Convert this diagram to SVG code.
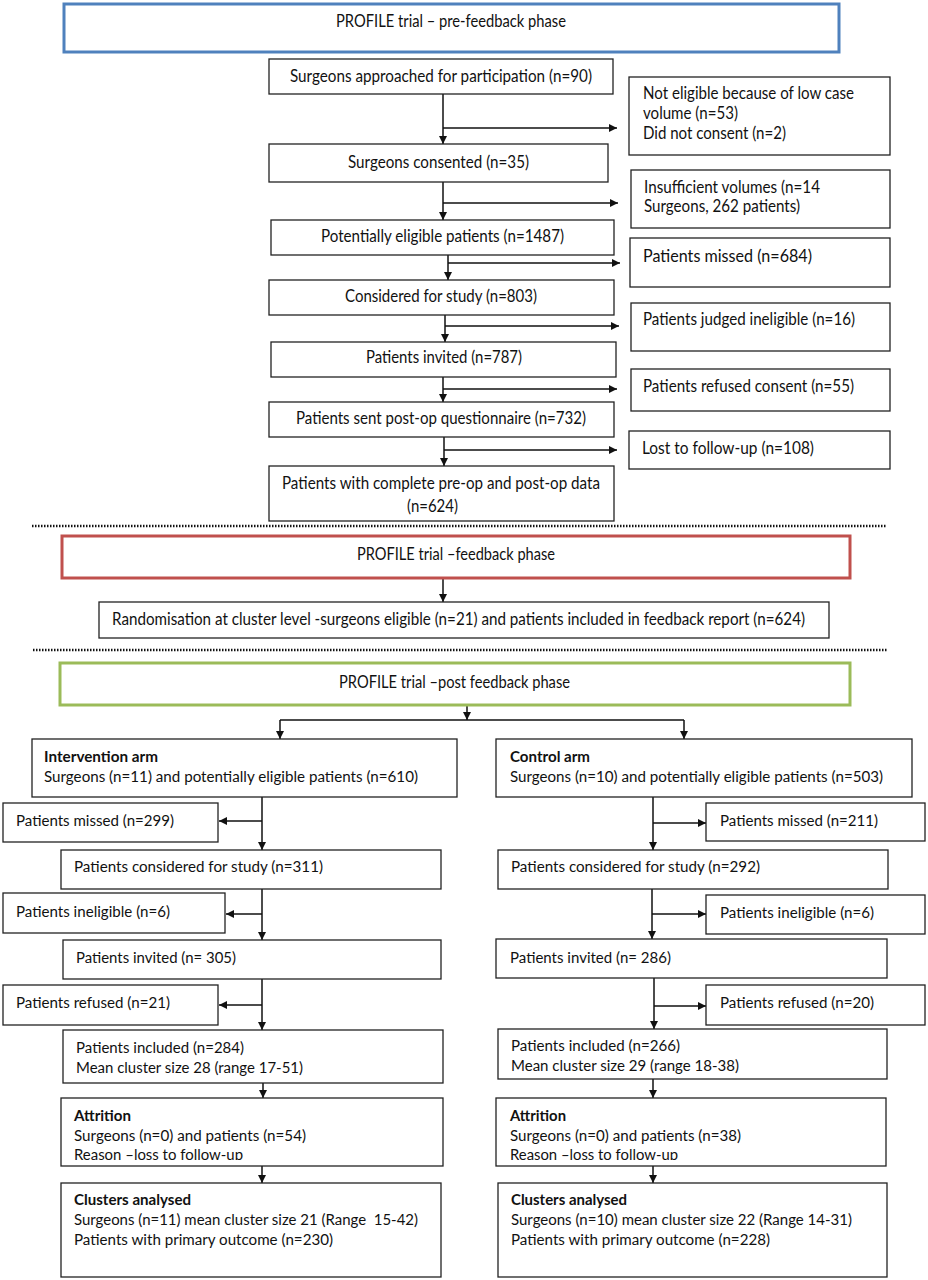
<svg xmlns="http://www.w3.org/2000/svg" width="928" height="1280" viewBox="0 0 928 1280">
<style>
.bx{fill:#fff;stroke:#222;stroke-width:1.3}
.ph{fill:#fff;stroke-width:3}
.t{font-family:Lato,"Liberation Sans",sans-serif;font-size:15.5px;fill:#111}
.tc{font-family:Lato,"Liberation Sans",sans-serif;font-size:17px;fill:#111}
.tl{font-family:Lato,"Liberation Sans",sans-serif;font-size:17px;fill:#111}
.b{font-weight:bold}
.ln{fill:none;stroke:#111;stroke-width:1.5}
.dot{fill:none;stroke:#111;stroke-width:2.5;stroke-dasharray:1.5 1.5}
</style>
<defs>
<marker id="ah" viewBox="0 0 10 10" refX="10" refY="5" markerWidth="8" markerHeight="8" markerUnits="userSpaceOnUse" orient="auto"><path d="M0,0 L10,5 L0,10 z" fill="#111"/></marker>
<clipPath id="cl1"><rect x="61" y="1098" width="382" height="62"/></clipPath>
<clipPath id="cl2"><rect x="496" y="1098" width="390" height="62"/></clipPath>
</defs>
<rect width="928" height="1280" fill="#fff"/>

<g id="dividers">
<line class="dot" x1="32" y1="526" x2="886" y2="526"/>
<line class="dot" x1="33" y1="650" x2="888" y2="650"/>
</g>

<g id="connectors">
<path class="ln" d="M443,94 V144" marker-end="url(#ah)"/>
<path class="ln" d="M443,128 H617" marker-end="url(#ah)"/>
<path class="ln" d="M443,182 V220" marker-end="url(#ah)"/>
<path class="ln" d="M443,203 H618" marker-end="url(#ah)"/>
<path class="ln" d="M448,255 V280" marker-end="url(#ah)"/>
<path class="ln" d="M448,263 H620" marker-end="url(#ah)"/>
<path class="ln" d="M445,315 V342" marker-end="url(#ah)"/>
<path class="ln" d="M445,326 H619" marker-end="url(#ah)"/>
<path class="ln" d="M443,377 V402" marker-end="url(#ah)"/>
<path class="ln" d="M443,389 H617" marker-end="url(#ah)"/>
<path class="ln" d="M444,437 V466" marker-end="url(#ah)"/>
<path class="ln" d="M444,450 H617" marker-end="url(#ah)"/>
<path class="ln" d="M443,578 V602" marker-end="url(#ah)"/>
<path class="ln" d="M467,705 V720" marker-end="url(#ah)"/>
<path class="ln" d="M280,720 H684"/>
<path class="ln" d="M280,720 V739" marker-end="url(#ah)"/>
<path class="ln" d="M684,720 V739" marker-end="url(#ah)"/>
<path class="ln" d="M262,797 V850" marker-end="url(#ah)"/>
<path class="ln" d="M262,821 H219" marker-end="url(#ah)"/>
<path class="ln" d="M262,889 V940" marker-end="url(#ah)"/>
<path class="ln" d="M262,914 H226" marker-end="url(#ah)"/>
<path class="ln" d="M262,979 V1030" marker-end="url(#ah)"/>
<path class="ln" d="M262,1005 H219" marker-end="url(#ah)"/>
<path class="ln" d="M263,1083 V1098" marker-end="url(#ah)"/>
<path class="ln" d="M262,1163 V1183" marker-end="url(#ah)"/>
<path class="ln" d="M653,797 V850" marker-end="url(#ah)"/>
<path class="ln" d="M653,823 H706" marker-end="url(#ah)"/>
<path class="ln" d="M652,889 V939" marker-end="url(#ah)"/>
<path class="ln" d="M652,914 H706" marker-end="url(#ah)"/>
<path class="ln" d="M654,978 V1029" marker-end="url(#ah)"/>
<path class="ln" d="M654,1006 H706" marker-end="url(#ah)"/>
<path class="ln" d="M653,1079 V1098" marker-end="url(#ah)"/>
<path class="ln" d="M653,1166 V1183" marker-end="url(#ah)"/>
</g>

<g id="phase-pre"><rect class="ph" stroke="#4f81bd" x="64" y="4" width="775" height="48"/>
<text class="tc" x="336" y="27" textLength="230" lengthAdjust="spacingAndGlyphs">PROFILE trial – pre-feedback phase</text></g>

<g id="approached"><rect class="bx" x="269" y="59" width="344" height="35"/>
<text class="tc" x="290" y="82" textLength="302" lengthAdjust="spacingAndGlyphs">Surgeons approached for participation (n=90)</text></g>

<g id="not-eligible"><rect class="bx" x="629" y="77" width="261" height="78"/>
<text class="tc" x="643" y="99" textLength="211" lengthAdjust="spacingAndGlyphs">Not eligible because of low case</text>
<text class="tc" x="643" y="119" textLength="95" lengthAdjust="spacingAndGlyphs">volume (n=53)</text>
<text class="tc" x="643" y="139" textLength="143" lengthAdjust="spacingAndGlyphs">Did not consent (n=2)</text></g>

<g id="consented"><rect class="bx" x="269" y="144" width="339" height="38"/>
<text class="tc" x="348" y="168" textLength="181" lengthAdjust="spacingAndGlyphs">Surgeons consented (n=35)</text></g>

<g id="insufficient"><rect class="bx" x="631" y="170" width="259" height="58"/>
<text class="tc" x="644" y="193" textLength="176" lengthAdjust="spacingAndGlyphs">Insufficient volumes (n=14</text>
<text class="tc" x="644" y="212" textLength="156" lengthAdjust="spacingAndGlyphs">Surgeons, 262 patients)</text></g>

<g id="potentially"><rect class="bx" x="271" y="220" width="343" height="35"/>
<text class="tc" x="321" y="242" textLength="243" lengthAdjust="spacingAndGlyphs">Potentially eligible patients (n=1487)</text></g>

<g id="missed-684"><rect class="bx" x="630" y="238" width="260" height="49"/>
<text class="tl" x="643" y="262" textLength="169" lengthAdjust="spacingAndGlyphs">Patients missed (n=684)</text></g>

<g id="considered-803"><rect class="bx" x="269" y="280" width="345" height="35"/>
<text class="tc" x="345" y="302" textLength="192" lengthAdjust="spacingAndGlyphs">Considered for study (n=803)</text></g>

<g id="judged-ineligible"><rect class="bx" x="631" y="303" width="259" height="48"/>
<text class="tc" x="643" y="325" textLength="212" lengthAdjust="spacingAndGlyphs">Patients judged ineligible (n=16)</text></g>

<g id="invited-787"><rect class="bx" x="271" y="342" width="345" height="35"/>
<text class="tc" x="366" y="363" textLength="156" lengthAdjust="spacingAndGlyphs">Patients invited (n=787)</text></g>

<g id="refused-55"><rect class="bx" x="631" y="369" width="259" height="42"/>
<text class="tc" x="643" y="392" textLength="211" lengthAdjust="spacingAndGlyphs">Patients refused consent (n=55)</text></g>

<g id="sent-732"><rect class="bx" x="269" y="402" width="345" height="35"/>
<text class="tc" x="296" y="424" textLength="290" lengthAdjust="spacingAndGlyphs">Patients sent post-op questionnaire (n=732)</text></g>

<g id="lost-108"><rect class="bx" x="629" y="431" width="261" height="38"/>
<text class="tl" x="642" y="454" textLength="172" lengthAdjust="spacingAndGlyphs">Lost to follow-up (n=108)</text></g>

<g id="complete-624"><rect class="bx" x="269" y="466" width="345" height="55"/>
<text class="tc" x="282" y="489" textLength="318" lengthAdjust="spacingAndGlyphs">Patients with complete pre-op and post-op data</text>
<text class="tc" x="407" y="512" textLength="51" lengthAdjust="spacingAndGlyphs">(n=624)</text></g>

<g id="phase-feedback"><rect class="ph" stroke="#c0504d" x="62" y="536" width="788" height="42"/>
<text class="tc" x="357" y="560" textLength="198" lengthAdjust="spacingAndGlyphs">PROFILE trial –feedback phase</text></g>

<g id="randomisation"><rect class="bx" x="99" y="602" width="730" height="36"/>
<text class="tc" x="112" y="625" textLength="693" lengthAdjust="spacingAndGlyphs">Randomisation at cluster level -surgeons eligible (n=21) and patients included in feedback report (n=624)</text></g>

<g id="phase-post"><rect class="ph" stroke="#9bbb59" x="60" y="663" width="790" height="42"/>
<text class="tc" x="339" y="688" textLength="231" lengthAdjust="spacingAndGlyphs">PROFILE trial –post feedback phase</text></g>

<g id="intervention-arm"><rect class="bx" x="32" y="739" width="425" height="58"/>
<text class="t b" x="44" y="762" textLength="114" lengthAdjust="spacingAndGlyphs">Intervention arm</text>
<text class="t" x="44" y="782" textLength="374" lengthAdjust="spacingAndGlyphs">Surgeons (n=11) and potentially eligible patients (n=610)</text></g>

<g id="int-missed"><rect class="bx" x="3" y="803" width="215" height="39"/>
<text class="t" x="16" y="826" textLength="158" lengthAdjust="spacingAndGlyphs">Patients missed (n=299)</text></g>

<g id="int-considered"><rect class="bx" x="61" y="850" width="380" height="39"/>
<text class="t" x="74" y="872" textLength="249" lengthAdjust="spacingAndGlyphs">Patients considered for study (n=311)</text></g>

<g id="int-ineligible"><rect class="bx" x="3" y="893" width="222" height="40"/>
<text class="t" x="16" y="917" textLength="154" lengthAdjust="spacingAndGlyphs">Patients ineligible (n=6)</text></g>

<g id="int-invited"><rect class="bx" x="63" y="940" width="378" height="39"/>
<text class="t" x="76" y="963" textLength="160" lengthAdjust="spacingAndGlyphs">Patients invited (n= 305)</text></g>

<g id="int-refused"><rect class="bx" x="3" y="985" width="215" height="40"/>
<text class="t" x="16" y="1008" textLength="154" lengthAdjust="spacingAndGlyphs">Patients refused (n=21)</text></g>

<g id="int-included"><rect class="bx" x="63" y="1030" width="380" height="53"/>
<text class="t" x="76" y="1053" textLength="168" lengthAdjust="spacingAndGlyphs">Patients included (n=284)</text>
<text class="t" x="76" y="1073" textLength="227" lengthAdjust="spacingAndGlyphs">Mean cluster size 28 (range 17-51)</text></g>

<g id="int-attrition"><rect class="bx" x="61" y="1098" width="382" height="68"/>
<text class="t b" x="74" y="1121" textLength="57" lengthAdjust="spacingAndGlyphs">Attrition</text>
<text class="t" x="74" y="1141" textLength="232" lengthAdjust="spacingAndGlyphs">Surgeons (n=0) and patients (n=54)</text>
<text class="t" x="74" y="1160" textLength="169" lengthAdjust="spacingAndGlyphs" clip-path="url(#cl1)">Reason –loss to follow-up</text></g>

<g id="int-clusters"><rect class="bx" x="61" y="1183" width="380" height="94"/>
<text class="t b" x="74" y="1205" textLength="117" lengthAdjust="spacingAndGlyphs">Clusters analysed</text>
<text class="t" x="74" y="1225" textLength="344" lengthAdjust="spacingAndGlyphs" xml:space="preserve">Surgeons (n=11) mean cluster size 21 (Range  15-42)</text>
<text class="t" x="74" y="1245" textLength="259" lengthAdjust="spacingAndGlyphs">Patients with primary outcome (n=230)</text></g>

<g id="control-arm"><rect class="bx" x="496" y="739" width="416" height="58"/>
<text class="t b" x="510" y="762" textLength="80" lengthAdjust="spacingAndGlyphs">Control arm</text>
<text class="t" x="510" y="782" textLength="373" lengthAdjust="spacingAndGlyphs">Surgeons (n=10) and potentially eligible patients (n=503)</text></g>

<g id="ctl-missed"><rect class="bx" x="706" y="803" width="219" height="38"/>
<text class="t" x="720" y="826" textLength="158" lengthAdjust="spacingAndGlyphs">Patients missed (n=211)</text></g>

<g id="ctl-considered"><rect class="bx" x="498" y="850" width="390" height="39"/>
<text class="t" x="511" y="872" textLength="249" lengthAdjust="spacingAndGlyphs">Patients considered for study (n=292)</text></g>

<g id="ctl-ineligible"><rect class="bx" x="706" y="895" width="219" height="39"/>
<text class="t" x="720" y="918" textLength="154" lengthAdjust="spacingAndGlyphs">Patients ineligible (n=6)</text></g>

<g id="ctl-invited"><rect class="bx" x="496" y="939" width="391" height="39"/>
<text class="t" x="510" y="963" textLength="161" lengthAdjust="spacingAndGlyphs">Patients invited (n= 286)</text></g>

<g id="ctl-refused"><rect class="bx" x="706" y="985" width="219" height="40"/>
<text class="t" x="720" y="1008" textLength="154" lengthAdjust="spacingAndGlyphs">Patients refused (n=20)</text></g>

<g id="ctl-included"><rect class="bx" x="498" y="1029" width="389" height="50"/>
<text class="t" x="511" y="1051" textLength="169" lengthAdjust="spacingAndGlyphs">Patients included (n=266)</text>
<text class="t" x="511" y="1071" textLength="228" lengthAdjust="spacingAndGlyphs">Mean cluster size 29 (range 18-38)</text></g>

<g id="ctl-attrition"><rect class="bx" x="496" y="1098" width="390" height="68"/>
<text class="t b" x="510" y="1121" textLength="56" lengthAdjust="spacingAndGlyphs">Attrition</text>
<text class="t" x="510" y="1141" textLength="231" lengthAdjust="spacingAndGlyphs">Surgeons (n=0) and patients (n=38)</text>
<text class="t" x="510" y="1160" textLength="168" lengthAdjust="spacingAndGlyphs" clip-path="url(#cl2)">Reason –loss to follow-up</text></g>

<g id="ctl-clusters"><rect class="bx" x="498" y="1183" width="389" height="94"/>
<text class="t b" x="511" y="1205" textLength="116" lengthAdjust="spacingAndGlyphs">Clusters analysed</text>
<text class="t" x="511" y="1225" textLength="341" lengthAdjust="spacingAndGlyphs">Surgeons (n=10) mean cluster size 22 (Range 14-31)</text>
<text class="t" x="511" y="1245" textLength="259" lengthAdjust="spacingAndGlyphs">Patients with primary outcome (n=228)</text></g>
</svg>
